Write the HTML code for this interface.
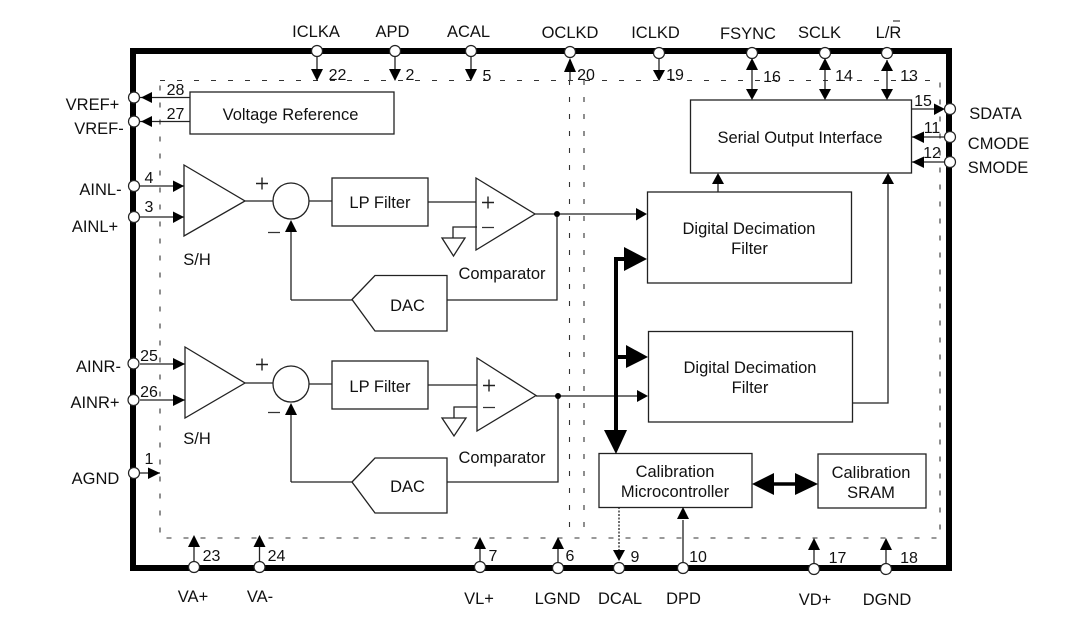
<!DOCTYPE html>
<html><head><meta charset="utf-8"><style>
html,body{margin:0;padding:0;background:#fff;width:1089px;height:623px;overflow:hidden}
svg{display:block}
text{font-family:"Liberation Sans",sans-serif;font-size:16.500px;fill:#111;text-anchor:middle}
text.n{font-size:16px}
.l{stroke:#222;stroke-width:1.300;fill:none}
.b{stroke:#222;stroke-width:1.300;fill:#fff}
.a{fill:#000;stroke:none}
.p{fill:#fff;stroke:#222;stroke-width:1.200}
.d{stroke:#333;stroke-width:1.100;fill:none;stroke-dasharray:5 12}
</style></head><body>
<svg width="1089" height="623" viewBox="0 0 1089 623" xmlns="http://www.w3.org/2000/svg">
<!-- frame -->
<path d="M133 51H949V568H133Z" fill="none" stroke="#000" stroke-width="6"/>
<!-- dashed inner -->
<path class="d" d="M160 80.500H940V538H160Z"/>
<path class="d" d="M569.500 80V538M584 80V538"/>

<!-- boxes -->
<rect class="b" x="190" y="92" width="204" height="42"/>
<rect class="b" x="332" y="178" width="96" height="48"/>
<rect class="b" x="332" y="361" width="96" height="48"/>
<rect class="b" x="647.500" y="192" width="204" height="91"/>
<rect class="b" x="648.500" y="331.500" width="204" height="90.500"/>
<rect class="b" x="690.500" y="100" width="221" height="73"/>
<rect class="b" x="599" y="453.500" width="153" height="54"/>
<rect class="b" x="818" y="454" width="108" height="54"/>

<!-- amps -->
<path class="b" d="M184 165L245 201L184 236Z"/>
<path class="b" d="M185 347L245 383L185 418Z"/>
<path class="b" d="M476 178L535 214L476 250Z"/>
<path class="b" d="M477 358L536 395.500L477 431Z"/>
<circle class="b" cx="291" cy="201" r="18"/>
<circle class="b" cx="291" cy="384" r="18"/>
<path class="b" d="M352 299.500L375 275.500H447V331H375Z"/>
<path class="b" d="M352 482L375 458H447V513H375Z"/>
<path class="b" d="M442 238H465L453.500 256Z"/>
<path class="b" d="M442 418H466L454 436Z"/>

<!-- wires -->
<path class="l" d="M245 201H273M309 201H332M428 202H476M477 227H453V238"/>
<path class="l" d="M245 383H273M309 384H332M428 385H477M477 407H454V418"/>
<path class="l" d="M535 214H640M536 396H640"/>
<path class="l" d="M557 214V300H447M291 300H352M291 300V230"/>
<path class="l" d="M558 396V482H447M291 482H352M291 482V412"/>
<path class="l" d="M852 403H888V180M718 192V182"/>
<circle cx="557" cy="214" r="3" fill="#000"/>
<circle cx="558" cy="396" r="3" fill="#000"/>
<path class="a" d="M636 208L647 214L636 220.500Z"/>
<path class="a" d="M637 390L648 396L637 402Z"/>
<path class="a" d="M285 232H297L291 220Z"/>
<path class="a" d="M285 415H297L291 403Z"/>
<path class="a" d="M712 184H724L718 173Z"/>
<path class="a" d="M882 184H894L888 173Z"/>

<!-- bus -->
<path d="M624 259H616V434M616 357H628" fill="none" stroke="#000" stroke-width="4"/>
<path class="a" d="M624 247L647 259L624 271Z"/>
<path class="a" d="M626 345L648 357L626 368Z"/>
<path class="a" d="M604 430H627L616 454Z"/>
<path d="M770 484H800" stroke="#000" stroke-width="3.500"/>
<path class="a" d="M752 484L774 473V495Z"/>
<path class="a" d="M818 484L795 473V495Z"/>

<!-- left pin wires -->
<path class="l" d="M140 97.500H190M140 121.500H190M140 186H184M140 217H184M140 364H185M140 400H185M140 473H160"/>
<path class="a" d="M141 97.500L152 92V103Z"/>
<path class="a" d="M141 121.500L152 116V127Z"/>
<path class="a" d="M184 186L173 180.500V192Z"/>
<path class="a" d="M184 217L173 211.500V223Z"/>
<path class="a" d="M185 364L173 358V370Z"/>
<path class="a" d="M185 400L173 394.500V406Z"/>
<path class="a" d="M160 473L148 467.500V479Z"/>

<!-- right pin wires -->
<path class="l" d="M911.500 109H940M911.500 137H945M911.500 162H945"/>
<path class="a" d="M945 109L934 103.500V115Z"/>
<path class="a" d="M912 137L924 131.500V143Z"/>
<path class="a" d="M912 162L924 156.500V168Z"/>

<!-- top pin wires -->
<path class="l" d="M317 51V72M395 51V72M471 51V72M570 60V80M659 51V74M752 60V92M825 60V92M887 60V92"/>
<path class="a" d="M311 69H323L317 81Z"/>
<path class="a" d="M389 69H401L395 81Z"/>
<path class="a" d="M465 69H477L471 81Z"/>
<path class="a" d="M564 72H576L570 58Z"/>
<path class="a" d="M653 70H665L659 81Z"/>
<path class="a" d="M746 70H758L752 58Z"/>
<path class="a" d="M746 89H758L752 100Z"/>
<path class="a" d="M819 70H831L825 58Z"/>
<path class="a" d="M819 89H831L825 100Z"/>
<path class="a" d="M881 71H893L887 60Z"/>
<path class="a" d="M881 89H893L887 100Z"/>

<!-- bottom pin wires -->
<path class="l" d="M194 547V567M259.500 547V567M480 547V567M558 547V567M683 520V567M814 547V568M886 547V568"/>
<path class="l" d="M619 507V555" stroke-dasharray="2 1.500"/>
<path class="a" d="M188 547H200L194 535Z"/>
<path class="a" d="M253.500 547H265.500L259.500 535Z"/>
<path class="a" d="M474 549H486L480 537Z"/>
<path class="a" d="M552 549H564L558 537Z"/>
<path class="a" d="M613 550H625L619 561Z"/>
<path class="a" d="M677 519H689L683 507Z"/>
<path class="a" d="M808 550H820L814 538Z"/>
<path class="a" d="M880 550H892L886 538Z"/>

<!-- pin circles -->
<circle class="p" cx="317" cy="51" r="5.500"/><circle class="p" cx="395" cy="51" r="5.500"/><circle class="p" cx="471" cy="51" r="5.500"/><circle class="p" cx="570" cy="52" r="5.500"/><circle class="p" cx="659" cy="53" r="5.500"/><circle class="p" cx="752" cy="53" r="5.500"/><circle class="p" cx="825" cy="53" r="5.500"/><circle class="p" cx="887" cy="53" r="5.500"/>
<circle class="p" cx="134" cy="97.500" r="5.500"/><circle class="p" cx="134" cy="121.500" r="5.500"/><circle class="p" cx="134" cy="186" r="5.500"/><circle class="p" cx="134" cy="217" r="5.500"/><circle class="p" cx="133.500" cy="363.500" r="5.500"/><circle class="p" cx="133.500" cy="400" r="5.500"/><circle class="p" cx="134" cy="473" r="5.500"/>
<circle class="p" cx="950" cy="109" r="5.500"/><circle class="p" cx="950" cy="137" r="5.500"/><circle class="p" cx="950" cy="162" r="5.500"/>
<circle class="p" cx="194" cy="567" r="5.500"/><circle class="p" cx="259.500" cy="567" r="5.500"/><circle class="p" cx="480" cy="567" r="5.500"/><circle class="p" cx="558" cy="568" r="5.500"/><circle class="p" cx="619" cy="568" r="5.500"/><circle class="p" cx="683" cy="568" r="5.500"/><circle class="p" cx="814" cy="569" r="5.500"/><circle class="p" cx="886" cy="569" r="5.500"/>

<!-- labels -->
<text x="316" y="37">ICLKA</text><text x="392.500" y="37">APD</text><text x="468.500" y="37">ACAL</text><text x="570" y="38">OCLKD</text><text x="655.500" y="38">ICLKD</text><text x="748" y="39">FSYNC</text><text x="819.500" y="38">SCLK</text><text x="888.500" y="38">L/R</text>
<path d="M893 21H900" stroke="#111" stroke-width="1"/>
<text x="92.500" y="110">VREF+</text><text x="99" y="134">VREF-</text><text x="100.500" y="195">AINL-</text><text x="95" y="232">AINL+</text><text x="98.500" y="372">AINR-</text><text x="95" y="408">AINR+</text><text x="95.500" y="484">AGND</text>
<text x="995.500" y="119">SDATA</text><text x="998.500" y="149">CMODE</text><text x="998" y="173">SMODE</text>
<text x="193" y="602">VA+</text><text x="260" y="602">VA-</text><text x="479" y="604">VL+</text><text x="557.500" y="604">LGND</text><text x="620" y="604">DCAL</text><text x="683.500" y="604">DPD</text><text x="815" y="605">VD+</text><text x="887" y="605">DGND</text>

<text x="290.500" y="120">Voltage Reference</text>
<text x="380" y="208">LP Filter</text><text x="380" y="392">LP Filter</text>
<text x="197" y="265">S/H</text><text x="197" y="444">S/H</text>
<text x="502" y="279">Comparator</text><text x="502" y="463">Comparator</text>
<text x="407.500" y="311">DAC</text><text x="407.500" y="492">DAC</text>
<text x="749" y="234">Digital Decimation</text><text x="749.500" y="254">Filter</text>
<text x="750" y="373">Digital Decimation</text><text x="750" y="393">Filter</text>
<text x="800" y="143">Serial Output Interface</text>
<text x="675" y="477">Calibration</text><text x="675" y="497">Microcontroller</text>
<text x="871" y="478">Calibration</text><text x="871" y="498">SRAM</text>

<!-- plus / minus signs -->
<path d="M256 183.500H268M262 177.500V189.500M256 364.500H268M262 358.500V370.500M482 202.500H494M488 196.500V208.500M483 385.500H495M489 379.500V391.500" stroke="#222" stroke-width="1.400"/>
<path d="M268 232.500H280M268 412.500H280M482 227.500H494M483 407.500H495" stroke="#333" stroke-width="1.300"/>

<!-- numbers -->
<text class="n" x="337.500" y="80">22</text><text class="n" x="410" y="80">2</text><text class="n" x="487" y="81">5</text><text class="n" x="586" y="80">20</text><text class="n" x="675" y="80">19</text><text class="n" x="772" y="82">16</text><text class="n" x="844" y="81">14</text><text class="n" x="909" y="81">13</text>
<text class="n" x="175.500" y="95">28</text><text class="n" x="175.500" y="119">27</text><text class="n" x="149" y="183">4</text><text class="n" x="149" y="212">3</text><text class="n" x="149" y="361">25</text><text class="n" x="149" y="397">26</text><text class="n" x="149" y="464">1</text>
<text class="n" x="923" y="106">15</text><text class="n" x="932" y="133">11</text><text class="n" x="932" y="158">12</text>
<text class="n" x="211.500" y="561">23</text><text class="n" x="276.500" y="561">24</text><text class="n" x="493" y="561">7</text><text class="n" x="570" y="561">6</text><text class="n" x="635" y="562">9</text><text class="n" x="698" y="562">10</text><text class="n" x="837.500" y="563">17</text><text class="n" x="909" y="563">18</text>
</svg>
</body></html>
